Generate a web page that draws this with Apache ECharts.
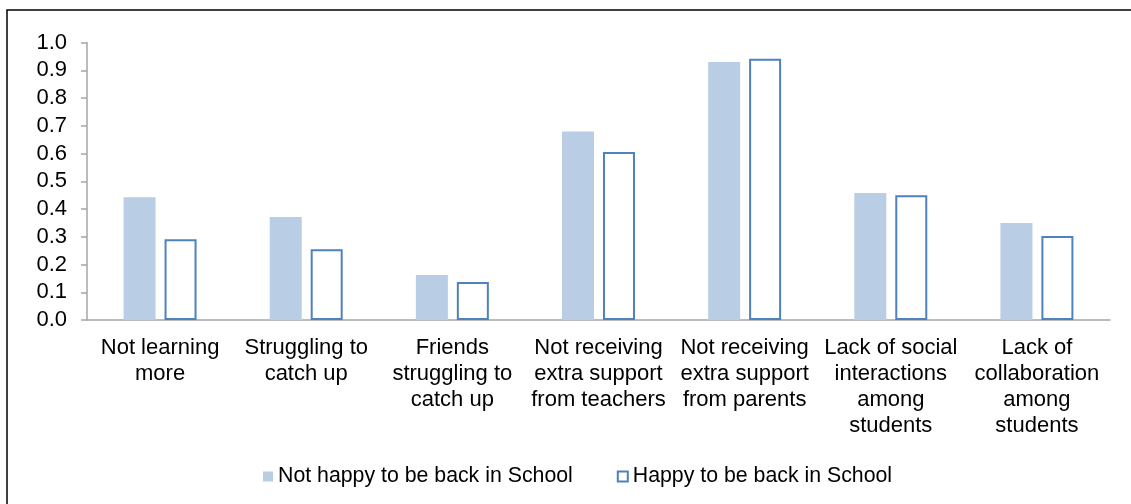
<!DOCTYPE html>
<html>
<head>
<meta charset="utf-8">
<script src="https://cdn.jsdelivr.net/npm/echarts@6/dist/echarts.min.js"></script>
<style>
html,body{margin:0;padding:0;background:#fff;}
#c{width:1131px;height:504px;}
</style>
</head>
<body>
<div id="c"></div>
<script>
var categories = [
  "Not learning\nmore",
  "Struggling to\ncatch up",
  "Friends\nstruggling to\ncatch up",
  "Not receiving\nextra support\nfrom teachers",
  "Not receiving\nextra support\nfrom parents",
  "Lack of social\ninteractions\namong\nstudents",
  "Lack of\ncollaboration\namong\nstudents"
];
var notHappy = [0.442, 0.371, 0.162, 0.679, 0.930, 0.458, 0.350];
var happy = [0.291, 0.255, 0.137, 0.605, 0.941, 0.450, 0.303];
var seriesNames = ["Not happy to be back in School", "Happy to be back in School"];

var FONT = "Liberation Sans, Arial, sans-serif";
var chart = echarts.init(document.getElementById('c'));
chart.setOption({
  animation: false,
  backgroundColor: '#fff',
  graphic: [{
    type: 'rect',
    shape: { x: 7, y: 10, width: 1200, height: 600 },
    style: { fill: 'none', stroke: '#000', lineWidth: 1.5 },
    silent: true
  }],
  grid: { left: 87, right: 21, top: 42.5, bottom: 184, containLabel: false },
  legend: {
    data: seriesNames,
    left: 258,
    top: 461,
    icon: 'rect',
    itemWidth: 10,
    itemHeight: 10,
    itemGap: 44,
    textStyle: { fontFamily: FONT, fontSize: 21.3, color: '#000' }
  },
  xAxis: {
    type: 'category',
    data: categories,
    axisLine: { lineStyle: { color: '#a6a6a6', width: 1.5 } },
    axisTick: { show: false },
    axisLabel: {
      interval: 0,
      margin: 15,
      fontFamily: FONT,
      fontSize: 22,
      lineHeight: 26,
      color: '#000',
      align: 'center'
    }
  },
  yAxis: {
    type: 'value',
    min: 0,
    max: 1,
    interval: 0.1,
    splitLine: { show: false },
    axisLine: { show: true, lineStyle: { color: '#a6a6a6', width: 1.5 } },
    axisTick: { show: true, length: 6, lineStyle: { color: '#a6a6a6', width: 1.5 } },
    axisLabel: {
      margin: 20,
      fontFamily: FONT,
      fontSize: 22,
      color: '#000',
      formatter: function (v) { return v.toFixed(1); }
    }
  },
  series: [
    {
      name: seriesNames[0],
      type: 'bar',
      data: notHappy,
      barWidth: 32,
      barGap: '28%',
      itemStyle: { color: '#b9cde5' }
    },
    {
      name: seriesNames[1],
      type: 'bar',
      data: happy,
      barWidth: 32,
      itemStyle: { color: '#fff', borderColor: '#4f81bd', borderWidth: 2 }
    }
  ]
});
</script>
</body>
</html>
